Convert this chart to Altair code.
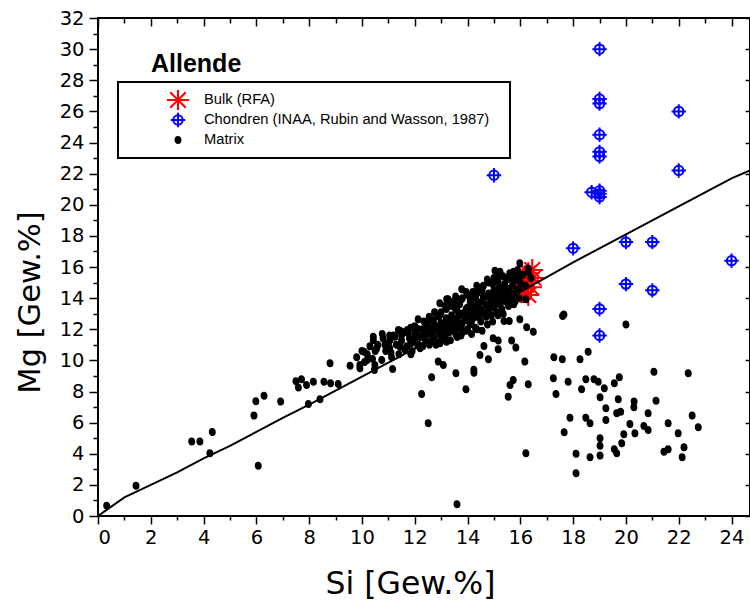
import altair as alt
import pandas as pd

# ---------------- data ----------------
series_names = ["Bulk (RFA)", "Chondren (INAA, Rubin and Wasson, 1987)", "Matrix"]
series_colors = ["#ff0000", "#0000ff", "#000000"]

bulk_si = [16.1, 16.2, 16.3, 16.4, 16.5, 16.3, 16.45, 16.15, 15.9]
bulk_mg = [14.4, 15.0, 15.6, 14.7, 15.3, 14.2, 15.8, 15.4, 14.6]

chondren_si = [19, 19, 19, 22, 19, 19, 19, 22, 18.7, 19, 19, 19, 18, 20, 21, 24, 20, 21, 15, 19, 19]
chondren_mg = [30.0, 26.8, 26.5, 26.0, 24.5, 23.4, 23.1, 22.2, 20.8, 20.9, 20.7, 20.5,
               17.2, 17.6, 17.6, 16.4, 14.9, 14.5, 21.9, 13.3, 11.6]

line_si = [0, 1, 2, 3, 4, 5, 6, 7, 8, 9, 10, 11, 12, 13, 14, 15, 16, 17, 18, 19, 20, 21, 22, 23, 24, 24.7]
line_mg = [0, 1.2, 2.0, 2.8, 3.7, 4.5, 5.4, 6.3, 7.15, 8.05, 8.95, 9.85, 10.75, 11.65, 12.55,
           13.5, 14.4, 15.35, 16.3, 17.2, 18.1, 19.0, 19.9, 20.8, 21.7, 22.2]

matrix_si = [
    0.33, 1.44, 3.55, 3.86, 4.24, 4.33, 5.91, 5.98, 6.29, 6.07, 6.92, 7.5, 7.59, 7.71, 7.9, 8.16,
    7.97, 8.41, 8.56, 8.79, 8.81, 9.1, 9.55, 9.92, 9.92, 10.08, 10.2, 10.43, 10.43, 10.49, 10.47,
    10.56, 10.77, 10.75, 10.87, 10.94, 11.06, 11.12, 11.16, 11.25, 11.38, 11.44, 11.5, 11.63, 11.72,
    11.75, 12.05, 12.0, 12.13, 12.2, 12.26, 12.45, 12.51, 12.64, 12.7, 12.89, 12.95, 13.08, 13.21,
    13.27, 13.56, 13.78, 13.94, 14.24, 14.24, 14.47, 14.62, 14.79, 14.97, 15.16, 15.16, 15.04, 15.23,
    15.38, 15.58, 15.54, 15.67, 15.73, 15.61, 15.83, 15.98, 15.98, 16.17, 16.24, 16.3, 16.3, 16.21,
    16.49, 17.27, 17.25, 17.35, 13.6,
    17.59, 18.26, 18.57, 17.81, 18.48, 18.79, 18.95, 18.32, 19.18, 19.56, 19.75, 21.06, 22.36, 19.02,
    19.71, 20.31, 21.14, 19.24, 20.3, 20.84, 19.65, 19.8, 17.88, 18.48, 18.64, 19.24, 20.15, 20.68,
    20.84, 20.34, 19.92, 21.6, 22.51, 22.74, 21.98, 17.66, 19.02, 19.02, 19.84, 19.56, 19.65, 19.02,
    18.64, 18.11, 16.21, 21.44, 21.6, 22.2, 22.13, 18.11, 17.6, 17.65, 20.0,
    9.8, 10.0, 10.1, 10.2, 10.3, 10.4, 10.5,
    10.6, 10.8, 10.9, 11.0, 11.1, 11.2, 11.3, 11.4, 11.5, 11.6,
    11.7, 11.8, 11.9, 12.0, 12.0, 12.1, 12.2, 12.3, 12.3, 12.4, 12.5, 12.5,
    12.6, 12.6, 12.7, 12.7, 12.8, 12.8, 12.9, 12.9, 13.0, 13.0, 13.0, 13.1, 13.1, 13.2, 13.2, 13.2,
    13.3, 13.3, 13.4, 13.4, 13.4, 13.5, 13.5, 13.5,
    13.6, 13.6, 13.6, 13.7, 13.7, 13.7, 13.8, 13.8, 13.8, 13.9, 13.9, 14.0, 14.0, 14.0, 14.0, 14.1,
    14.1, 14.1, 14.2, 14.2, 14.2, 14.3, 14.3, 14.3, 14.4, 14.4, 14.4, 14.5, 14.5,
    14.6, 14.6, 14.6, 14.7, 14.7, 14.8, 14.8, 14.8, 14.9, 14.9, 15.0, 15.0, 15.0, 15.1, 15.1, 15.2,
    15.2, 15.2, 15.3, 15.3, 15.4, 15.4, 15.5, 15.5,
    15.6, 15.6, 15.7, 15.7, 15.8, 15.8, 15.9, 15.9, 16.0, 16.1, 16.2, 16.3, 16.4,
    12.15, 12.15, 12.35, 12.35, 12.55, 12.55, 12.55, 12.75, 12.75, 12.75, 12.95, 12.95, 12.95,
    13.15, 13.15, 13.15, 13.35, 13.35, 13.35, 13.35, 13.55, 13.55, 13.55, 13.55,
    13.75, 13.75, 13.75, 13.75, 13.95, 13.95, 13.95, 13.95, 14.15, 14.15, 14.15, 14.15,
    14.35, 14.35, 14.35, 14.35, 14.35, 14.55, 14.55, 14.55, 14.55, 14.75, 14.75, 14.75, 14.75,
    14.95, 14.95, 14.95, 14.95, 15.15, 15.15, 15.15, 15.15, 15.35, 15.35, 15.35, 15.35,
    15.55, 15.55, 15.55, 15.55, 15.75, 15.75, 15.75, 15.75, 15.95, 15.95, 15.95,
    11.85, 11.85, 11.85, 11.45, 11.45, 11.05, 11.05,
]
matrix_mg = [
    0.66, 1.95, 4.78, 4.78, 4.03, 5.4, 6.45, 7.38, 7.73, 3.23, 7.35, 8.66, 8.25, 8.78, 8.42, 8.63,
    7.2, 7.5, 8.63, 9.81, 8.53, 8.48, 9.66, 9.7, 9.5, 10.56, 10.03, 11.52, 11.3, 9.7, 9.38,
    10.78, 11.7, 10.03, 10.99, 10.67, 11.31, 10.2, 9.45, 11.52, 11.95, 10.88, 11.63, 10.67, 11.95,
    11.74, 11.84, 11.31, 12.64, 10.78, 7.84, 12.27, 5.96, 8.91, 11.95, 9.92, 13.67, 9.7, 13.93,
    13.93, 9.17, 14.57, 8.14, 9.21, 9.4, 10.35, 10.93, 10.07, 11.42, 11.27, 10.71, 15.76, 15.7,
    12.53, 12.53, 7.67, 11.27, 8.74, 8.42, 10.82, 12.64, 16.24, 9.92, 12.13, 8.46, 15.7, 13.93,
    11.84, 10.2, 8.85, 7.84, 0.75,
    10.07, 10.07, 10.56, 8.63, 8.79, 8.79, 8.63, 8.14, 8.21, 8.53, 8.91, 9.27, 9.17, 7.63,
    7.5, 7.35, 7.41, 6.92, 6.99, 6.6, 6.6, 6.7, 6.32, 6.32, 5.96, 6.17, 5.91, 5.78,
    5.53, 5.31, 5.25, 5.96, 6.45, 5.7, 5.31, 5.38, 4.99, 4.52, 4.67, 4.29, 4.03, 3.88,
    3.77, 4.0, 4.03, 4.13, 4.29, 4.41, 3.77, 2.74, 12.85, 12.95, 12.3,
    10.2, 10.6, 9.9, 10.4, 10.9, 10.1, 10.6,
    11.0, 11.4, 10.6, 11.1, 10.5, 11.6, 11.0, 10.4, 11.3, 11.8,
    10.9, 11.4, 10.6, 11.7, 12.2, 11.0, 11.5, 12.0, 10.9, 11.3, 12.4, 11.7,
    11.2, 12.0, 12.6, 11.5, 12.2, 11.0, 12.8, 11.8, 12.4, 11.4, 13.1, 12.0, 11.6, 12.7, 13.3, 11.2,
    12.2, 11.8, 12.9, 13.5, 12.5, 11.9, 12.3, 13.8,
    12.7, 13.2, 11.5, 12.1, 13.6, 12.9, 12.4, 14.0, 11.8, 13.1, 12.6, 13.4, 12.0, 14.2, 12.8, 13.0,
    13.8, 12.3, 13.5, 14.4, 12.7, 13.1, 14.0, 12.1, 13.7, 12.9, 14.6, 13.3, 12.5,
    14.1, 13.0, 14.8, 13.6, 12.8, 14.3, 13.2, 15.0, 13.8, 12.9, 14.5, 13.4, 15.3, 14.0, 13.1, 14.7,
    13.6, 15.5, 14.2, 13.3, 14.9, 13.8, 15.2, 14.4,
    13.9, 15.6, 14.8, 14.2, 15.3, 13.8, 15.8, 14.5, 15.0, 15.5, 14.8, 15.9, 15.3,
    11.0, 12.0, 11.6, 12.5, 11.0, 11.9, 12.8, 11.3, 12.3, 13.1, 11.1, 12.0, 12.9,
    11.5, 12.4, 13.5, 11.3, 12.0, 12.7, 13.7, 11.7, 12.5, 13.3, 14.1,
    11.6, 12.2, 13.0, 13.9, 11.9, 12.6, 13.3, 14.4, 11.7, 12.5, 13.2, 14.1,
    12.0, 12.8, 13.5, 14.3, 14.8, 11.9, 13.0, 13.8, 14.5, 12.3, 13.4, 14.1, 15.2,
    12.5, 13.6, 14.2, 14.9, 12.9, 13.8, 14.4, 15.1, 13.0, 14.1, 14.6, 15.4,
    13.5, 14.0, 14.6, 15.3, 13.6, 14.3, 15.1, 15.7, 14.0, 14.6, 15.4,
    10.4, 11.1, 12.1, 10.9, 11.9, 10.8, 11.6,
]


# --------------- shapes (custom symbols, unit box scaled by size) ---------------
def ellipse(rx, ry):
    k = 0.5523
    return (f"M{rx},0C{rx},{k*ry:.3f} {k*rx:.3f},{ry} 0,{ry}"
            f"C{-k*rx:.3f},{ry} {-rx},{k*ry:.3f} {-rx},0"
            f"C{-rx},{-k*ry:.3f} {-k*rx:.3f},{-ry} 0,{-ry}"
            f"C{k*rx:.3f},{-ry} {rx},{-k*ry:.3f} {rx},0Z")


asterisk_path = "M-1.1,0L1.1,0M0,-1.1L0,1.1M-0.78,-0.78L0.78,0.78M-0.78,0.78L0.78,-0.78"
crosshair_path = ellipse(0.47, 0.47) + "M-0.72,0L0.72,0M0,-0.72L0,0.72"
dot_path = ellipse(0.25, 0.3) + ellipse(0.1, 0.14)
series_shapes = [asterisk_path, crosshair_path, dot_path]

bulk_df = pd.DataFrame({"si": bulk_si, "mg": bulk_mg, "series": series_names[0]})
chondren_df = pd.DataFrame({"si": chondren_si, "mg": chondren_mg, "series": series_names[1]})
matrix_df = pd.DataFrame({"si": matrix_si, "mg": matrix_mg, "series": series_names[2]})
line_df = pd.DataFrame({"si": line_si, "mg": line_mg})

FONT = "Liberation Sans, Arial, sans-serif"
AXFONT = "DejaVu Sans, Verdana, sans-serif"
xscale = alt.Scale(domain=[0, 24.7], nice=False, zero=False)
yscale = alt.Scale(domain=[0, 32], nice=False, zero=False)
even_x = list(range(0, 25, 2))
odd_x = list(range(1, 25, 2))
even_y = list(range(0, 33, 2))
odd_y = list(range(1, 33, 2))

leg = alt.Legend(
    title=None, orient="none", legendX=20, legendY=64, padding=8, rowPadding=0, clipHeight=20,
    symbolSize=400, symbolStrokeWidth=2, symbolOffset=41, labelFont=FONT, labelFontSize=14.7,
    labelColor="black", labelOffset=15, labelLimit=500, strokeColor="black", fillColor="white",
    labelExpr="datum.label + '\u00a0\u00a0\u00a0\u200b'",
)
color_enc = alt.Color("series:N", scale=alt.Scale(domain=series_names, range=series_colors), legend=leg)
shape_enc = alt.Shape("series:N", scale=alt.Scale(domain=series_names, range=series_shapes), legend=leg)


def tick_axis(orient, values, size, offset=0):
    return alt.Axis(orient=orient, values=values, tickSize=size, tickWidth=1.5, tickColor="black",
                    offset=offset, labels=False, domain=False, grid=False, title=None)


x_bottom_major = alt.Axis(
    orient="bottom", values=even_x, tickSize=8, tickWidth=1.5, tickColor="black", domain=False,
    grid=False, labelFont=AXFONT, labelFontSize=19.5, labelColor="black", labelPadding=4,
    title="Si [Gew.%]", titleFont=AXFONT, titleFontSize=31.5, titleFontWeight="normal",
    titleColor="black", titleX=312, titleY=77, titleAlign="center", titleBaseline="alphabetic",
)
y_left_major = alt.Axis(
    orient="left", values=even_y, tickSize=9, tickWidth=1.5, tickColor="black", domain=False,
    grid=False, labelFont=AXFONT, labelFontSize=19.5, labelColor="black", labelPadding=5,
    title="Mg [Gew.%]", titleFont=AXFONT, titleFontSize=30.5, titleFontWeight="normal",
    titleColor="black", titleX=-59, titleY=284, titleAngle=270, titleAlign="center",
    titleBaseline="alphabetic",
)

point_kw = dict(filled=False, strokeWidth=2, opacity=1, size=400)

bulk = alt.Chart(bulk_df).mark_point(**point_kw).encode(
    x=alt.X("si:Q", scale=xscale, axis=tick_axis("top", even_x, 8, -8)),
    y=alt.Y("mg:Q", scale=yscale, axis=tick_axis("right", even_y, 5, -5)),
    color=color_enc, shape=shape_enc,
)
matrix = alt.Chart(matrix_df).mark_point(**point_kw).encode(
    x=alt.X("si:Q", scale=xscale, axis=x_bottom_major),
    y=alt.Y("mg:Q", scale=yscale, axis=y_left_major),
    color=color_enc, shape=shape_enc,
)
line = alt.Chart(line_df).mark_line(color="black", strokeWidth=2, clip=True).encode(
    x=alt.X("si:Q", scale=xscale, axis=tick_axis("bottom", odd_x, 4)),
    y=alt.Y("mg:Q", scale=yscale, axis=tick_axis("left", odd_y, 5)),
)
chondren = alt.Chart(chondren_df).mark_point(**point_kw).encode(
    x=alt.X("si:Q", scale=xscale, axis=tick_axis("top", odd_x, 5, -5)),
    y=alt.Y("mg:Q", scale=yscale, axis=None),
    color=color_enc, shape=shape_enc,
)

chart = (
    alt.layer(bulk, matrix, line, chondren)
    .resolve_axis(x="independent", y="independent")
    .properties(
        width=652, height=498,
        title=alt.TitleParams("Allende", anchor="start", frame="group", font=FONT, fontSize=25,
                              fontWeight="bold", color="black", dx=53, dy=89, offset=0,
                              baseline="alphabetic"),
        autosize=alt.AutoSizeParams(type="none"),
        padding={"left": 98, "top": 18, "right": 0, "bottom": 84},
    )
    .configure_view(stroke="black", strokeWidth=2)
    .configure_legend(strokeWidth=2)
)

chart.save("out.html", embed_options={"renderer": "svg", "actions": False})
